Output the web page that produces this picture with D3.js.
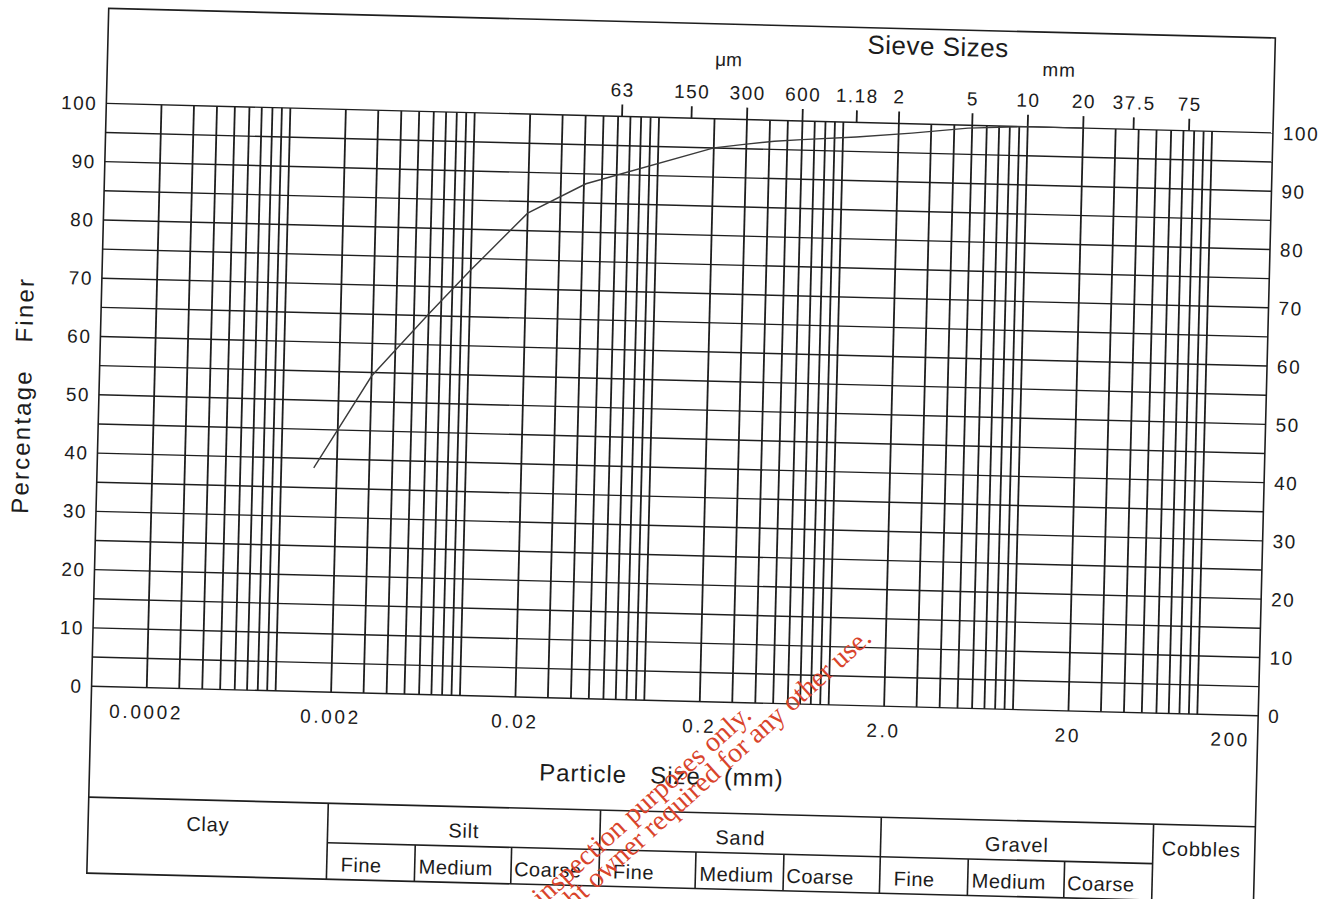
<!DOCTYPE html>
<html><head><meta charset="utf-8">
<script src="https://cdn.jsdelivr.net/npm/d3@7"></script>
<style>
body{margin:0;background:#fff}
svg{display:block}
text{font-family:"Liberation Sans",Arial,Helvetica,sans-serif;fill:#1c1c1c}
</style>
</head><body>
<svg id="chart" width="1336" height="899"></svg>
<script>
// ---------------- data ----------------
const particleSize = [0.0015, 0.003, 0.006, 0.01, 0.02, 0.041, 0.2, 0.3, 0.425, 0.6, 1.18, 2.36, 4.75, 9.5, 20];
const percentFiner = [38.4, 54.4, 65.3, 73.0, 83.0, 88.3, 95.0, 95.8, 96.4, 96.8, 97.5, 98.4, 99.5, 100, 100];

const yTickValues = [0, 10, 20, 30, 40, 50, 60, 70, 80, 90, 100];
const xTickValues = [0.0002, 0.002, 0.02, 0.2, 2, 20, 200];
const xTickLabels = ["0.0002", "0.002", "0.02", "0.2", "2.0", "20", "200"];

const sieveValues = [0.063, 0.15, 0.3, 0.6, 1.18, 2, 5, 10, 20, 37.5, 75];
const sieveLabels = ["63", "150", "300", "600", "1.18", "2", "5", "10", "20", "37.5", "75"];

const soilNames = ["Clay", "Silt", "Sand", "Gravel", "Cobbles"];
const soilBounds = [0.0001, 0.002, 0.06, 2, 60, 200];
const subNames = ["Fine", "Medium", "Coarse"];
const siltBounds = [0.002, 0.006, 0.02, 0.06];
const sandBounds = [0.06, 0.2, 0.6, 2];
const gravelBounds = [2, 6, 20, 60];

const watermarkLines = ["inspection purposes only.", "ht owner required for any other use."];

// ---------------- layout ----------------
const svg = d3.select("#chart");
const g = svg.append("g").attr("transform", "rotate(1.45,680,400)");

const x = d3.scaleLog().domain([0.0001, 200]).range([98.7, 1260.6]);
const y = d3.scaleLinear().domain([0, 100]).range([701, 118]);

const box = {left: 99, right: 1266, top: 23, bottom: 888};
const table = {top: 812, mid: 851.5, bottom: 888};
const ink = "#1e1e1e";

// outer frame
g.append("rect").attr("x", box.left).attr("y", box.top)
  .attr("width", box.right - box.left).attr("height", box.bottom - box.top)
  .attr("fill", "none").attr("stroke", ink).attr("stroke-width", 1.6);

// horizontal grid (every 5 %)
const hLines = d3.range(0, 101, 5);
g.append("g").selectAll("line").data(hLines).join("line")
  .attr("x1", box.left).attr("x2", box.right)
  .attr("y1", d => y(d)).attr("y2", d => y(d))
  .attr("stroke", ink).attr("stroke-width", 1.4);

// vertical log grid
const vLines = [];
for (let k = -4; k <= 1; k++) for (let n = 1; n <= 9; n++) {
  const v = +(n * Math.pow(10, k)).toPrecision(3);
  if (v >= 0.0002 && v <= 100) vLines.push(v);
}
vLines.push(100);
g.append("g").selectAll("line").data(vLines).join("line")
  .attr("x1", d => x(d)).attr("x2", d => x(d))
  .attr("y1", y(0)).attr("y2", y(100))
  .attr("stroke", ink).attr("stroke-width", 1.8);

// y axis labels (left and right)
g.append("g").selectAll("text").data(yTickValues).join("text")
  .attr("x", 90).attr("y", d => y(d)).attr("dy", "0.36em")
  .attr("text-anchor", "end").attr("font-size", 19).attr("letter-spacing", 1.5)
  .text(d => d);
g.append("g").selectAll("text").data(yTickValues).join("text")
  .attr("x", 1276).attr("y", d => y(d)).attr("dy", "0.36em")
  .attr("text-anchor", "start").attr("font-size", 19).attr("letter-spacing", 1.5)
  .text(d => d);

// x tick labels
g.append("g").selectAll("text").data(xTickValues).join("text")
  .attr("x", (d, i) => x(d) - (i === xTickValues.length - 1 ? 22 : 0))
  .attr("y", 732).attr("text-anchor", "middle")
  .attr("font-size", 19).attr("letter-spacing", 2.6)
  .text((d, i) => xTickLabels[i]);

// sieve ticks and labels
const sg = g.append("g");
sg.selectAll("line").data(sieveValues).join("line")
  .attr("x1", d => x(d)).attr("x2", d => x(d))
  .attr("y1", y(100)).attr("y2", y(100) - 12)
  .attr("stroke", ink).attr("stroke-width", 1.8);
sg.selectAll("text").data(sieveValues).join("text")
  .attr("x", d => x(d)).attr("y", 98).attr("text-anchor", "middle")
  .attr("font-size", 19).attr("letter-spacing", 1.5)
  .text((d, i) => sieveLabels[i]);
g.append("text").attr("x", x(0.3) - 20).attr("y", 65).attr("text-anchor", "middle")
  .attr("font-size", 19).text("\u03BCm");
g.append("text").attr("x", x(10) + 30).attr("y", 67).attr("text-anchor", "middle")
  .attr("font-size", 19).attr("letter-spacing", 1).text("mm");
g.append("text").attr("x", 929).attr("y", 49).attr("text-anchor", "middle")
  .attr("font-size", 26).attr("letter-spacing", 0.5).text("Sieve Sizes");

// axis titles
g.append("text").attr("x", 671).attr("y", 784).attr("text-anchor", "middle")
  .attr("font-size", 24).attr("letter-spacing", 1)
  .text("Particle\u00A0\u00A0\u00A0Size\u00A0\u00A0\u00A0(mm)");
g.append("text").attr("transform", "translate(31,412) rotate(-90)")
  .attr("text-anchor", "middle").attr("font-size", 24).attr("letter-spacing", 2.2)
  .text("Percentage\u00A0\u00A0\u00A0Finer");

// grading curve
const pts = particleSize.map((s, i) => [s, percentFiner[i]]);
g.append("path").datum(pts)
  .attr("d", d3.line().x(d => x(d[0])).y(d => y(d[1])))
  .attr("fill", "none").attr("stroke", "#3a3a3a").attr("stroke-width", 1.4);

// classification table
const tg = g.append("g");
const px = v => Math.max(box.left, Math.min(box.right, x(v)));
tg.append("line").attr("x1", box.left).attr("x2", box.right)
  .attr("y1", table.top).attr("y2", table.top).attr("stroke", ink).attr("stroke-width", 1.6);
tg.append("line").attr("x1", px(0.002)).attr("x2", px(60))
  .attr("y1", table.mid).attr("y2", table.mid).attr("stroke", ink).attr("stroke-width", 1.6);
tg.selectAll(".div").data(soilBounds.slice(1, -1)).join("line").attr("class", "div")
  .attr("x1", d => px(d)).attr("x2", d => px(d))
  .attr("y1", table.top).attr("y2", table.bottom).attr("stroke", ink).attr("stroke-width", 1.6);
tg.selectAll(".main").data(soilNames).join("text").attr("class", "main")
  .attr("x", (d, i) => (px(soilBounds[i]) + px(soilBounds[i + 1])) / 2)
  .attr("y", 843).attr("text-anchor", "middle")
  .attr("font-size", 20).attr("letter-spacing", 0.8).text(d => d);

const subPad = [14, 4, 3];
[siltBounds, sandBounds, gravelBounds].forEach(b => {
  tg.append("g").selectAll("line").data(b.slice(1, -1)).join("line")
    .attr("x1", d => px(d)).attr("x2", d => px(d))
    .attr("y1", table.mid).attr("y2", table.bottom).attr("stroke", ink).attr("stroke-width", 1.6);
  tg.append("g").selectAll("text").data(subNames).join("text")
    .attr("x", (d, i) => px(b[i]) + subPad[i]).attr("y", 880)
    .attr("font-size", 20).attr("letter-spacing", 0.5).text(d => d);
});

// watermark overlay (scanned stamp)
const wmEnds = [[753, 717], [873, 640]];
svg.append("g").selectAll("text").data(watermarkLines).join("text")
  .attr("transform", (d, i) => `translate(${wmEnds[i][0]},${wmEnds[i][1]}) rotate(-42)`)
  .attr("text-anchor", "end")
  .style("font-family", "'Liberation Serif','Times New Roman',serif")
  .style("font-size", "28px").style("fill", "#d9442c")
  .text(d => d);
</script>
</body></html>
